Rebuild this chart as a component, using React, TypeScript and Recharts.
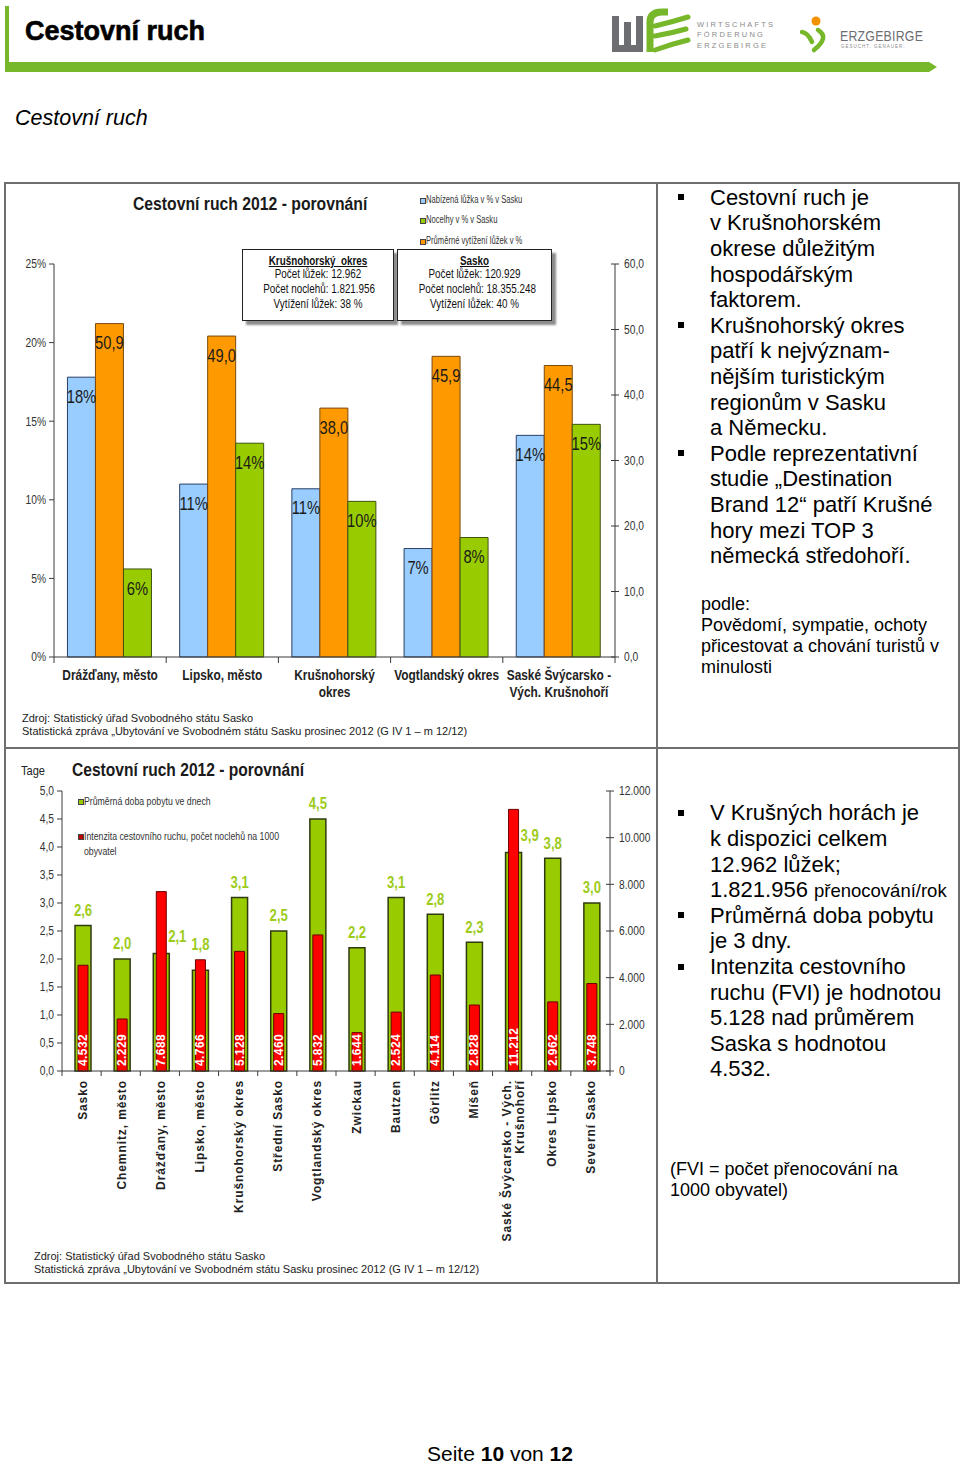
import React from 'react';
import { BarChart, Bar, XAxis, YAxis, LabelList } from 'recharts';

// ---------- Chart 1 data ----------
const regions1 = ['Drážďany, město', 'Lipsko, město', 'Krušnohorský\nokres', 'Vogtlandský okres', 'Saské Švýcarsko -\nVých. Krušnohoří'];
const bedsSharePct = [17.8, 11.0, 10.7, 6.9, 14.1];
const occupancyPct = [50.9, 49.0, 38.0, 45.9, 44.5];
const nightsSharePct = [5.6, 13.6, 9.9, 7.6, 14.8];
const pctTicks = [0, 5, 10, 15, 20, 25];
const occTicks = [0, 10, 20, 30, 40, 50, 60];
const legend1 = ['Nabízená lůžka v % v Sasku', 'Nocelhy v % v Sasku', 'Průměrné vytížení lůžek v %'];

// ---------- Chart 2 data ----------
const regions2 = ['Sasko', 'Chemnitz, město', 'Drážďany, město', 'Lipsko, město', 'Krušnohorský okres', 'Střední Sasko', 'Vogtlandský okres', 'Zwickau', 'Bautzen', 'Görlitz', 'Míšeň', 'Saské Švýcarsko - Vých.\nKrušnohoří', 'Okres Lipsko', 'Severní Sasko'];
const stayDays = [2.6, 2.0, 2.1, 1.8, 3.1, 2.5, 4.5, 2.2, 3.1, 2.8, 2.3, 3.9, 3.8, 3.0];
const intensity = [4532, 2229, 7688, 4766, 5128, 2460, 5832, 1644, 2524, 4114, 2828, 11212, 2962, 3748];
const dayTicks = [0, 0.5, 1, 1.5, 2, 2.5, 3, 3.5, 4, 4.5, 5];
const intensityTicks = [0, 2000, 4000, 6000, 8000, 10000, 12000];

const data1 = regions1.map((name, i) => ({ name, beds: bedsSharePct[i], occ: occupancyPct[i], nights: nightsSharePct[i] }));
const data2 = regions2.map((name, i) => ({ name, days: stayDays[i], fvi: intensity[i] }));

// ---------- styling ----------
const SANS = "'Liberation Sans', Arial, Helvetica, sans-serif";
const NX = 0.82; // Arial Narrow ≈ Arial compressed horizontally
const AXIS = '#3a3a3a';
const TICK_TXT = '#333';
const GREEN_H = '#77B72A';
const BLUE = '#99CCFF';
const ORANGE = '#FF9900';
const LIME = '#99CC00';
const RED = '#FF0000';

const C1 = { w: 657, h: 565, top: 81, bottom: 41, left: 14, right: 2, yW: 40, xH: 50 };
const PLOT1_W = C1.w - C1.left - C1.right - 2 * C1.yW;
const C2 = { w: 657, h: 535, top: 43, bottom: 32, left: 22, right: 7, yW: 40, xH: 180 };
const PLOT2_W = C2.w - C2.left - C2.right - 2 * C2.yW;

const fmtComma1 = (v: number) => Number(v).toFixed(1).replace('.', ',');
const fmtThousands = (v: number) => String(v).replace(/\B(?=(\d{3})+(?!\d))/g, '.');

function rectOf(p: any) {
  const vb = p.viewBox && typeof p.viewBox.x === 'number' ? p.viewBox : p;
  return { x: Number(vb.x), y: Number(vb.y), width: Number(vb.width), height: Number(vb.height) };
}

const Txt = ({ x, base, size, children, bold, italic, narrow, color = '#000', style }: any) => (
  <div
    style={{
      position: 'absolute', left: x, top: base - size * 0.8465, fontSize: size, lineHeight: `${size}px`,
      whiteSpace: 'nowrap', fontFamily: SANS, fontWeight: bold ? 700 : 400, fontStyle: italic ? 'italic' : 'normal', color,
      transform: narrow ? `scaleX(${typeof narrow === 'number' ? narrow : NX})` : undefined, transformOrigin: '0 0', ...style,
    }}
  >
    {children}
  </div>
);

// narrow SVG text
const NText = ({ x, y, anchor = 'middle', size, bold, fill = '#222', children }: any) => (
  <g transform={`translate(${x},${y}) scale(${NX},1)`}>
    <text x={0} y={0} textAnchor={anchor} dominantBaseline="central" fontFamily={SANS} fontWeight={bold ? 700 : 400} fontSize={size} fill={fill}>
      {children}
    </text>
  </g>
);

// ---------- ticks & labels ----------
const CatTick1 = (props: any) => {
  const { x, y, payload, index } = props;
  const band = PLOT1_W / regions1.length;
  const lines = String(payload.value).split('\n');
  return (
    <g>
      <line x1={x - band / 2} x2={x - band / 2} y1={y} y2={y + 6} stroke={AXIS} />
      {index === regions1.length - 1 && <line x1={x + band / 2} x2={x + band / 2} y1={y} y2={y + 6} stroke={AXIS} />}
      {lines.map((l, i) => (
        <NText key={i} x={x} y={y + 18 + i * 17} size={14.5} bold fill="#222">{l}</NText>
      ))}
    </g>
  );
};

const CatTick2 = (props: any) => {
  const { x, y, payload, index } = props;
  const band = PLOT2_W / regions2.length;
  const lines = String(payload.value).split('\n');
  const n = lines.length;
  return (
    <g>
      <line x1={x - band / 2} x2={x - band / 2} y1={y} y2={y + 5} stroke={AXIS} />
      {index === regions2.length - 1 && <line x1={x + band / 2} x2={x + band / 2} y1={y} y2={y + 5} stroke={AXIS} />}
      {lines.map((l, i) => (
        <text
          key={i}
          transform={`translate(${x + 1 + (i - (n - 1) / 2) * 13},${y + 9}) rotate(-90)`}
          x={0}
          y={0}
          textAnchor="end"
          dominantBaseline="central"
          fontFamily={SANS}
          fontWeight={700}
          fontSize={12}
          letterSpacing={0.9}
          fill="#222"
        >
          {l}
        </text>
      ))}
    </g>
  );
};

const LeftTick = (props: any) => {
  const { x, y, payload, fmt } = props;
  return <NText x={x} y={y} anchor="end" size={12.5} fill={TICK_TXT}>{fmt(payload.value)}</NText>;
};

const RightTick = (props: any) => {
  const { x, y, payload, fmt } = props;
  return (
    <g>
      <line x1={x - 13} x2={x - 5} y1={y} y2={y} stroke={AXIS} />
      <NText x={x} y={y} anchor="start" size={12.5} fill={TICK_TXT}>{fmt(payload.value)}</NText>
    </g>
  );
};

const barTopLabel = (fmt: (v: number) => string) => (p: any) => {
  const r = rectOf(p);
  return <NText x={r.x + r.width / 2} y={r.y + 19} size={18} fill="#1a1a1a">{fmt(Number(p.value))}</NText>;
};

const dayLabel = (p: any) => {
  const r = rectOf(p);
  const v = Number(p.value);
  const bottom = r.y + r.height;
  const plotH = (r.height / v) * 5;
  const redTop = bottom - (intensity[p.index] / 12000) * plotH;
  let cx = r.x + r.width / 2;
  let cy = Math.min(r.y, redTop) - 15;
  if (redTop < r.y - 30) {
    cx = r.x + r.width + 8;
    cy = r.y - 17;
  }
  return <NText x={cx} y={cy} size={16} bold fill="#9DCB1B">{fmtComma1(v)}</NText>;
};

const fviLabel = (p: any) => {
  const r = rectOf(p);
  const cx = r.x + r.width / 2;
  const bottom = r.y + r.height;
  return (
    <text
      transform={`translate(${cx},${bottom - 5}) rotate(-90)`}
      x={0}
      y={0}
      textAnchor="start"
      dominantBaseline="central"
      fontFamily={SANS}
      fontWeight={700}
      fontSize={12}
      letterSpacing={0.4}
      fill="#fff"
    >
      {fmtThousands(Number(p.value))}
    </text>
  );
};

// ---------- page parts ----------
const Header = () => (
  <>
    <svg width={960} height={80} style={{ position: 'absolute', left: 0, top: 0 }}>
      <rect x={5} y={6} width={4} height={60} fill={GREEN_H} />
      <polygon points="5,62 929,62 937,67 929,72 5,72" fill={GREEN_H} />
      {/* wfe logo */}
      <rect x={612} y={16} width={7} height={36} fill="#6d6e71" />
      <rect x={624} y={22} width={7} height={30} fill="#6d6e71" />
      <rect x={636} y={16} width={7} height={36} fill="#6d6e71" />
      <rect x={612} y={45} width={31} height={7} fill="#6d6e71" />
      <path d="M650,52 L650,22 Q650,12 662,12 L668,12" stroke={GREEN_H} strokeWidth={7} fill="none" />
      <path d="M655,26 Q672,22 688,17" stroke={GREEN_H} strokeWidth={5} fill="none" strokeLinecap="round" />
      <path d="M655,36 Q672,33 686,29" stroke={GREEN_H} strokeWidth={5} fill="none" strokeLinecap="round" />
      <path d="M655,50 Q672,44 688,40" stroke={GREEN_H} strokeWidth={5} fill="none" strokeLinecap="round" />
      {/* erzgebirge icon */}
      <circle cx={816} cy={21} r={4.5} fill="#F39200" />
      <path d="M802,32 Q808,33 812,42" stroke={GREEN_H} strokeWidth={4.5} fill="none" strokeLinecap="round" />
      <path d="M818,30 Q830,37 814,50" stroke={GREEN_H} strokeWidth={4.5} fill="none" strokeLinecap="round" />
    </svg>
    <Txt x={25} base={41} size={27} bold style={{ WebkitTextStroke: '0.6px #000' }}>Cestovní ruch</Txt>
    <Txt x={697} base={27} size={7.5} color="#8a8a8a" style={{ letterSpacing: 2.2 }}>WIRTSCHAFTS</Txt>
    <Txt x={697} base={37.5} size={7.5} color="#8a8a8a" style={{ letterSpacing: 2.2 }}>FÖRDERUNG</Txt>
    <Txt x={697} base={48} size={7.5} color="#8a8a8a" style={{ letterSpacing: 2.2 }}>ERZGEBIRGE</Txt>
    <Txt x={840} base={41} size={15} narrow color="#6d6e71" style={{ letterSpacing: 0.3 }}>ERZGEBIRGE</Txt>
    <Txt x={841} base={49} size={4.5} color="#8a8a8a" style={{ letterSpacing: 1 }}>GESUCHT. GENAUER.</Txt>
  </>
);

const Frame = () => {
  const c = '#6e6e6e';
  const s = (l: number, t: number, w: number, h: number) => (
    <div style={{ position: 'absolute', left: l, top: t, width: w, height: h, background: c }} />
  );
  return (
    <>
      {s(4, 182, 956, 2)}
      {s(4, 1282, 956, 2)}
      {s(4, 182, 2, 1102)}
      {s(958, 182, 2, 1102)}
      {s(656, 182, 2, 1102)}
      {s(4, 747, 956, 2)}
    </>
  );
};

const InfoBox = ({ x, w, lines }: any) => (
  <div style={{ position: 'absolute', left: x, top: 249, width: w, height: 70, border: '1px solid #222', boxShadow: '4px 4px 2px #8c8c8c', background: '#fff', fontFamily: SANS, fontSize: 13.5 }}>
    {lines.map((l: string, i: number) => (
      <div key={i} style={{ position: 'absolute', left: 0, width: '100%', textAlign: 'center', top: [15.7, 28.7, 43.7, 58.7][i] - 11.4, lineHeight: '13.5px', whiteSpace: 'pre', fontWeight: i === 0 ? 700 : 400, textDecoration: i === 0 ? 'underline' : 'none', color: '#111', transform: 'scaleX(0.73)', transformOrigin: '50% 0' }}>
        {l}
      </div>
    ))}
  </div>
);

const Bullet = ({ base }: any) => (
  <div style={{ position: 'absolute', left: 678, top: base - 11, width: 6, height: 6, background: '#000' }} />
);

const block1 = [
  'Cestovní ruch je', 'v Krušnohorském', 'okrese důležitým', 'hospodářským', 'faktorem.',
  'Krušnohorský okres', 'patří k nejvýznam-', 'nějším turistickým', 'regionům v Sasku', 'a Německu.',
  'Podle reprezentativní', 'studie „Destination', 'Brand 12“ patří Krušné', 'hory mezi TOP 3', 'německá středohoří.',
];
const block1Bullets = [0, 5, 10];
const block2: any[] = [
  'V Krušných horách je', 'k dispozici celkem', '12.962 lůžek;',
  <>1.821.956 <span style={{ fontSize: 18.5 }}>přenocování/rok</span></>,
  'Průměrná doba pobytu', 'je 3 dny.', 'Intenzita cestovního', 'ruchu (FVI) je hodnotou', '5.128 nad průměrem', 'Saska s hodnotou', '4.532.',
];
const block2Bullets = [0, 4, 6];

export default function App() {
  return (
    <div style={{ position: 'absolute', left: 0, top: 0, width: 960, height: 1465, background: '#fff', overflow: 'hidden', fontFamily: SANS, color: '#000' }}>
      <Header />
      <Txt x={15} base={126} size={21.5} italic>Cestovní ruch</Txt>
      <Frame />

      {/* ---------- Chart 1 ---------- */}
      <div style={{ position: 'absolute', left: 0, top: 183 }}>
        <BarChart width={C1.w} height={C1.h} data={data1} margin={{ top: C1.top, right: C1.right, bottom: C1.bottom, left: C1.left }} barCategoryGap="12%" barGap={0}>
          <XAxis dataKey="name" interval={0} tickLine={false} tickSize={0} tickMargin={0} height={C1.xH} stroke={AXIS} tick={(p: any) => <CatTick1 {...p} />} />
          <YAxis yAxisId="l" domain={[0, 25]} ticks={pctTicks} interval={0} width={C1.yW} stroke={AXIS} tickSize={5} tickMargin={3} tick={(p: any) => <LeftTick {...p} fmt={(v: number) => `${v}%`} />} />
          <YAxis yAxisId="r" orientation="right" domain={[0, 60]} ticks={occTicks} interval={0} width={C1.yW} stroke={AXIS} tickLine={false} tickSize={0} tickMargin={9} tick={(p: any) => <RightTick {...p} fmt={fmtComma1} />} />
          <Bar yAxisId="l" dataKey="beds" fill={BLUE} stroke="#2a3f66" strokeWidth={1} isAnimationActive={false}>
            <LabelList dataKey="beds" content={barTopLabel((v) => `${Math.round(v)}%`)} />
          </Bar>
          <Bar yAxisId="r" dataKey="occ" fill={ORANGE} stroke="#7a4a10" strokeWidth={1} isAnimationActive={false}>
            <LabelList dataKey="occ" content={barTopLabel(fmtComma1)} />
          </Bar>
          <Bar yAxisId="l" dataKey="nights" fill={LIME} stroke="#3f5210" strokeWidth={1} isAnimationActive={false}>
            <LabelList dataKey="nights" content={barTopLabel((v) => `${Math.round(v)}%`)} />
          </Bar>
        </BarChart>
      </div>
      <Txt x={133} base={210} size={19.2} bold narrow color="#1a1a1a">Cestovní ruch 2012 - porovnání</Txt>
      {legend1.map((t, i) => (
        <React.Fragment key={t}>
          <div style={{ position: 'absolute', left: 420, top: [200, 220, 241.5][i] - 2.5, width: 4, height: 4, border: '1px solid #444', background: [BLUE, LIME, ORANGE][i] }} />
          <Txt x={426} base={[200, 220, 241.5][i] + 3.3} size={10} narrow={0.76} color="#333">{t}</Txt>
        </React.Fragment>
      ))}
      <InfoBox x={242} w={150} lines={['Krušnohorský  okres', 'Počet lůžek: 12.962', 'Počet noclehů: 1.821.956', 'Vytížení lůžek: 38 %']} />
      <InfoBox x={397} w={153} lines={['Sasko', 'Počet lůžek: 120.929', 'Počet noclehů: 18.355.248', 'Vytížení lůžek: 40 %']} />
      <Txt x={22} base={722} size={11} color="#222">Zdroj: Statistický úřad Svobodného státu Sasko</Txt>
      <Txt x={22} base={735} size={11} color="#222">Statistická zpráva „Ubytování ve Svobodném státu Sasku prosinec 2012 (G IV 1 – m 12/12)</Txt>

      {/* right text 1 */}
      {block1.map((l, i) => (
        <Txt key={i} x={710} base={205.4 + i * 25.6} size={22}>{l}</Txt>
      ))}
      {block1Bullets.map((k) => <Bullet key={k} base={205.4 + k * 25.6} />)}
      {['podle:', 'Povědomí, sympatie, ochoty', 'přicestovat a chování turistů v', 'minulosti'].map((l, i) => (
        <Txt key={l} x={701} base={610 + i * 21} size={18}>{l}</Txt>
      ))}

      {/* ---------- Chart 2 ---------- */}
      <div style={{ position: 'absolute', left: 0, top: 748 }}>
        <BarChart width={C2.w} height={C2.h} data={data2} margin={{ top: C2.top, right: C2.right, bottom: C2.bottom, left: C2.left }} barGap={-13}>
          <XAxis dataKey="name" interval={0} tickLine={false} tickSize={0} tickMargin={0} height={C2.xH} stroke={AXIS} tick={(p: any) => <CatTick2 {...p} />} />
          <YAxis yAxisId="l" domain={[0, 5]} ticks={dayTicks} interval={0} width={C2.yW} stroke={AXIS} tickSize={5} tickMargin={3} tick={(p: any) => <LeftTick {...p} fmt={fmtComma1} />} />
          <YAxis yAxisId="r" orientation="right" domain={[0, 12000]} ticks={intensityTicks} interval={0} width={C2.yW} stroke={AXIS} tickLine={false} tickSize={0} tickMargin={9} tick={(p: any) => <RightTick {...p} fmt={fmtThousands} />} />
          <Bar yAxisId="l" dataKey="days" barSize={16} fill={LIME} stroke="#2f3a10" strokeWidth={1.5} isAnimationActive={false}>
            <LabelList dataKey="days" content={dayLabel} />
          </Bar>
          <Bar yAxisId="r" dataKey="fvi" barSize={10} fill={RED} stroke="#6a0000" strokeWidth={1} isAnimationActive={false}>
            <LabelList dataKey="fvi" content={fviLabel} />
          </Bar>
        </BarChart>
      </div>
      <Txt x={21} base={775} size={13.5} narrow color="#222">Tage</Txt>
      <Txt x={72} base={776} size={19} bold narrow color="#1a1a1a">Cestovní ruch 2012 - porovnání</Txt>
      <div style={{ position: 'absolute', left: 78, top: 799, width: 4, height: 4, border: '1px solid #444', background: LIME }} />
      <Txt x={84} base={805} size={11.2} narrow={0.78} color="#333">Průměrná doba pobytu ve dnech</Txt>
      <div style={{ position: 'absolute', left: 78, top: 834, width: 4, height: 4, border: '1px solid #444', background: '#C00000' }} />
      <Txt x={84} base={840} size={11.2} narrow={0.78} color="#333">Intenzita cestovního ruchu, počet noclehů na 1000</Txt>
      <Txt x={84} base={855} size={11.2} narrow={0.78} color="#333">obyvatel</Txt>
      <Txt x={34} base={1260} size={11} color="#222">Zdroj: Statistický úřad Svobodného státu Sasko</Txt>
      <Txt x={34} base={1273} size={11} color="#222">Statistická zpráva „Ubytování ve Svobodném státu Sasku prosinec 2012 (G IV 1 – m 12/12)</Txt>

      {/* right text 2 */}
      {block2.map((l, i) => (
        <Txt key={i} x={710} base={821 + i * 25.6} size={22}>{l}</Txt>
      ))}
      {block2Bullets.map((k) => <Bullet key={k} base={821 + k * 25.6} />)}
      <Txt x={670} base={1175} size={18}>(FVI = počet přenocování na</Txt>
      <Txt x={670} base={1196} size={18}>1000 obyvatel)</Txt>

      {/* footer */}
      <Txt x={427} base={1461} size={21}>Seite <b>10</b> von <b>12</b></Txt>
    </div>
  );
}
